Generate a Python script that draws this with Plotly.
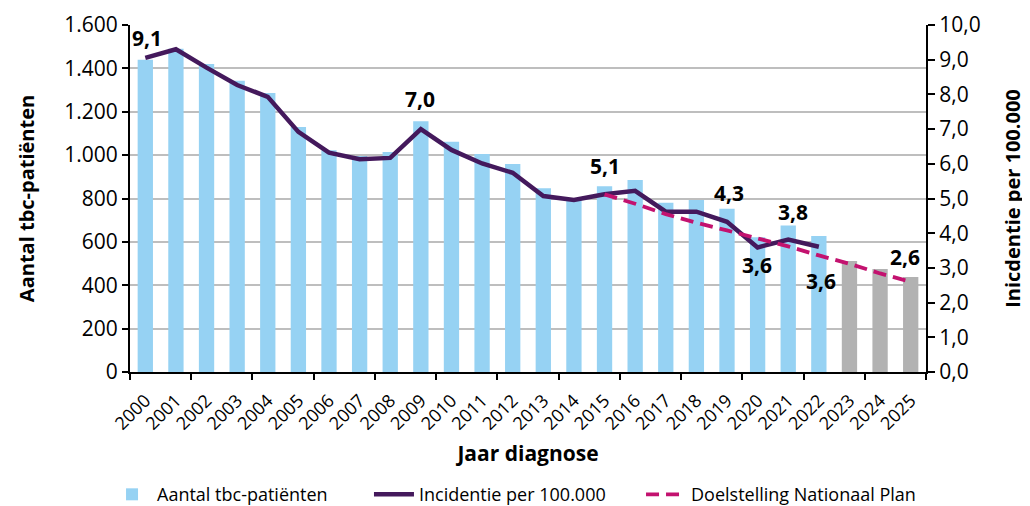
import plotly.graph_objects as go

years = list(range(2000, 2026))
year_labels = [str(y) for y in years]

patients = [1440, 1490, 1420, 1343, 1286, 1130, 1023, 996, 1014, 1156,
            1062, 1005, 959, 847, 800, 857, 885, 780, 793, 753,
            621, 676, 627, 512, 475, 438]
observed_last = 2022

inc_years = list(range(2000, 2023))
incidence = [9.05, 9.30, 8.77, 8.27, 7.93, 6.92, 6.32, 6.13, 6.17, 7.0,
             6.40, 6.01, 5.74, 5.07, 4.96, 5.12, 5.22, 4.62, 4.62, 4.33,
             3.59, 3.82, 3.61]

goal_years = list(range(2015, 2026))
goal = [5.12, 4.85, 4.55, 4.3, 4.08, 3.86, 3.62, 3.36, 3.12, 2.84, 2.6]

# value labels: (text, x, y on right axis)
label_text = ["9,1", "7,0", "5,1", "4,3", "3,8", "3,6", "3,6", "2,6"]
label_x = [2000.06, 2008.97, 2015.02, 2019.05, 2021.15, 2019.98, 2022.07, 2024.8]
label_y = [9.62, 7.86, 5.93, 5.16, 4.6, 3.07, 2.63, 3.31]

BLUE = "#96D2F3"
GRAY = "#B2B2B2"
PURPLE = "#44195C"
MAGENTA = "#C3126F"
FONT = "Open Sans"

bar_colors = [BLUE if y <= observed_last else GRAY for y in years]

fig = go.Figure()
fig.add_trace(go.Bar(
    x=years, y=patients, name="Aantal tbc-patiënten",
    marker=dict(color=bar_colors, line=dict(width=0)), width=0.5,
    yaxis="y", xaxis="x", legend="legend",
))
fig.add_trace(go.Scatter(
    x=inc_years, y=incidence, name="Incidentie per 100.000",
    mode="lines", line=dict(color=PURPLE, width=4.5), yaxis="y2", xaxis="x",
    legend="legend2",
))
fig.add_trace(go.Scatter(
    x=goal_years, y=goal, name="Doelstelling Nationaal Plan",
    mode="lines", line=dict(color=MAGENTA, width=3.8, dash="13px,7px"),
    yaxis="y2", xaxis="x", legend="legend3",
))
# invisible trace to make the tick-mark overlay axis render
fig.add_trace(go.Scatter(
    x=[1999.5], y=[0], mode="markers", marker=dict(opacity=0),
    showlegend=False, hoverinfo="skip", xaxis="x2", yaxis="y",
))

for t, x, y in zip(label_text, label_x, label_y):
    fig.add_annotation(
        x=x, y=y, xref="x", yref="y2", text="<b>%s</b>" % t, showarrow=False,
        font=dict(family=FONT, size=21, color="black"),
    )


def legend_at(xfrac):
    return dict(
        orientation="h", x=xfrac, xref="container", xanchor="left",
        y=0.06, yref="container", yanchor="top",
        font=dict(family=FONT, size=18, color="black"),
        itemwidth=40, tracegroupgap=0, bgcolor="rgba(0,0,0,0)",
    )


fig.update_layout(
    width=1022, height=498,
    margin=dict(l=122, r=104, t=17, b=134, autoexpand=False),
    paper_bgcolor="white", plot_bgcolor="white",
    separators=",.",
    font=dict(family=FONT, color="black"),
    bargap=0.5,
    showlegend=True,
    legend=legend_at(0.0969),
    legend2=legend_at(0.3532),
    legend3=legend_at(0.6194),
    xaxis=dict(
        range=[1999.5, 2025.5], tickmode="array", tickvals=years,
        ticktext=year_labels, tickangle=-45, ticks="outside", ticklen=9,
        tickcolor="rgba(0,0,0,0)",
        tickfont=dict(family=FONT, size=18, color="black"),
        showline=True, linecolor="black", linewidth=2, showgrid=False,
        zeroline=False, automargin=False,
        title=dict(text="<b>Jaar diagnose</b>", font=dict(family=FONT, size=21),
                   standoff=13),
    ),
    xaxis2=dict(
        range=[1999.5, 2025.5], overlaying="x", anchor="y", side="bottom",
        tickmode="array", tickvals=[1999.5 + 2 * k for k in range(14)],
        ticks="outside", ticklen=7, tickwidth=2, tickcolor="black",
        showticklabels=False, showgrid=False, showline=False, zeroline=False,
        automargin=False,
    ),
    yaxis=dict(
        range=[0, 1600], tickmode="array", tickvals=list(range(0, 1601, 200)),
        tickformat=",d", ticksuffix="\u00a0\u00a0\u00a0\u00a0",
        ticks="outside", ticklen=6, tickwidth=2, tickcolor="black",
        tickfont=dict(family=FONT, size=21, color="black"),
        showline=True, linecolor="black", linewidth=2,
        showgrid=True, gridcolor="#BEBEBE", gridwidth=1.5, zeroline=False,
        automargin=False,
        title=dict(text="<b>Aantal tbc-patiënten</b>",
                   font=dict(family=FONT, size=20), standoff=24),
    ),
    yaxis2=dict(
        range=[0, 10], overlaying="y", side="right", anchor="x",
        tickmode="array", tickvals=list(range(0, 11)), tickformat=".1f",
        ticks="outside", ticklen=7, tickwidth=2, tickcolor="black",
        tickfont=dict(family=FONT, size=21, color="black"),
        showline=True, linecolor="black", linewidth=2,
        showgrid=False, zeroline=False, automargin=False,
        title=dict(text="<b>Inicdentie per 100.000</b>",
                   font=dict(family=FONT, size=20), standoff=26),
    ),
)

fig.write_html("out.html")
